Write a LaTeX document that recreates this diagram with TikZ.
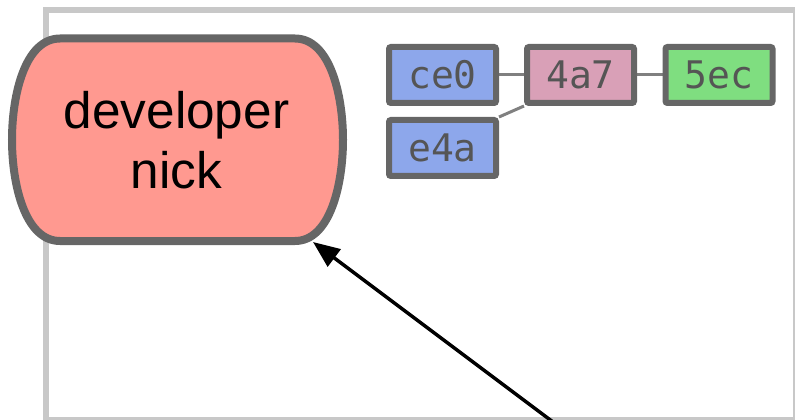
\documentclass[tikz,border=0pt]{standalone}
\usepackage{fontspec}
\setmainfont{Liberation Sans}
\newfontfamily\monof{DejaVu Sans Mono}
\usetikzlibrary{arrows.meta,backgrounds}
\definecolor{devfill}{HTML}{FF9990}
\definecolor{bordergray}{HTML}{666666}
\definecolor{framegray}{HTML}{C8C8C8}
\definecolor{linkgray}{HTML}{808080}
\definecolor{textgray}{HTML}{555555}
\definecolor{cblue}{HTML}{8DA7EB}
\definecolor{cpink}{HTML}{D9A0B7}
\definecolor{cgreen}{HTML}{7FDE80}
\begin{document}
\begin{tikzpicture}[x=0.75pt,y=-0.75pt,
  commit/.style={draw=bordergray, line width=4.5pt, rounded corners=1.5pt,
    minimum width=80.25pt, minimum height=42pt, inner sep=0pt,
    font=\monof\fontsize{28.5}{32}\selectfont, text=textgray},
  link/.style={draw=linkgray, line width=2.25pt},
  frame/.style={draw=framegray, line width=4.5pt},
  devshape/.style={draw=bordergray, fill=devfill, line width=6pt},
  devtext/.style={align=center, inner sep=0pt, font=\fontsize{38.5}{45}\selectfont},
  pointer/.style={draw=black, line width=2.6pt, -{Triangle[length=20pt,width=16pt]}}
]
\useasboundingbox (0,0) rectangle (795,420);
\clip (0,0) rectangle (795,420);
\draw[frame] (46,10) rectangle (796,419.5);

% developer shape
\draw[devshape] (60,38.5) -- (295,38.5)
  .. controls (330,38.5) and (343,95) .. (343,139.75)
  .. controls (343,184.5) and (330,241) .. (295,241)
  -- (60,241)
  .. controls (25,241) and (12,184.5) .. (12,139.75)
  .. controls (12,95) and (25,38.5) .. (60,38.5) -- cycle;
\node[devtext] (dev) at (176.5,139.75) {developer\\nick};

% commits
\node[commit, fill=cblue] (ce0) at (442.5,75) {ce0};
\node[commit, fill=cpink] (c4a7) at (580.5,75) {4a7};
\node[commit, fill=cgreen] (c5ec) at (719,75) {5ec};
\node[commit, fill=cblue] (e4a) at (442.5,148) {e4a};

\begin{scope}[on background layer]
  \draw[link] (ce0.east) -- (c4a7.west);
  \draw[link] (c4a7.east) -- (c5ec.west);
  \draw[link] (e4a.north east) -- (c4a7.south west);
\end{scope}

% arrow
\coordinate (src) at (553,422);
\coordinate (devtip) at (313,242);
\draw[pointer] (src) -- (devtip);
\end{tikzpicture}
\end{document}
